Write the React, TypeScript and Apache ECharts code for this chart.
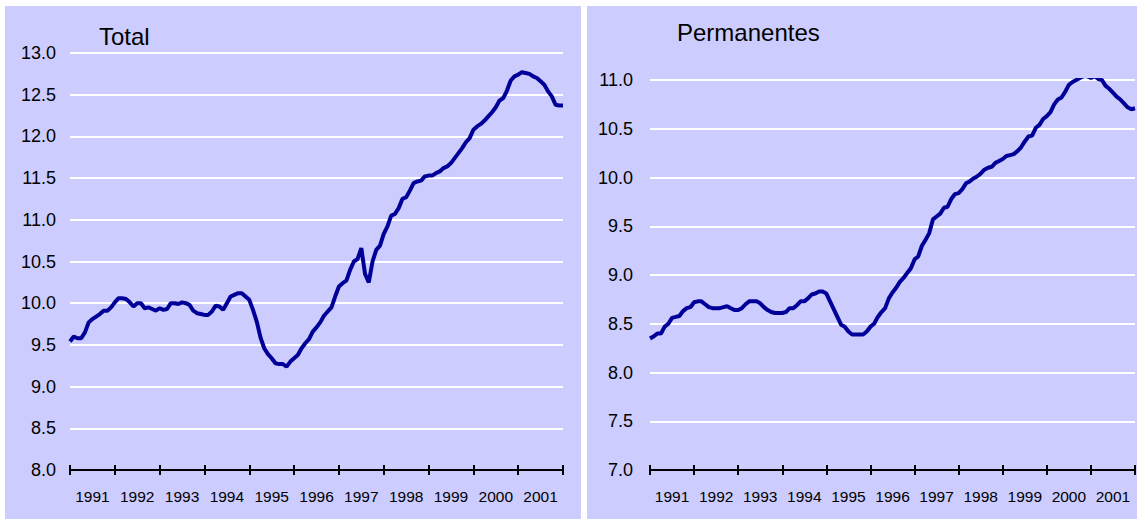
import React, { useEffect, useRef } from "react";
import * as echarts from "echarts";

// Monthly values, Jan 1991 .. Jan 2002 (133 points)
const totalValues: number[] = [
  9.54, 9.60, 9.58, 9.58, 9.65, 9.77, 9.81, 9.84, 9.87, 9.91, 9.91, 9.95,
  10.01, 10.06, 10.06, 10.05, 10.01, 9.96, 10.0, 10.0, 9.94, 9.95, 9.93, 9.91,
  9.94, 9.92, 9.93, 10.0, 10.0, 9.99, 10.01, 10.0, 9.98, 9.91, 9.88, 9.87,
  9.86, 9.86, 9.90, 9.97, 9.96, 9.92, 10.0, 10.08, 10.10, 10.12, 10.12, 10.08,
  10.04, 9.92, 9.78, 9.59, 9.46, 9.39, 9.34, 9.28, 9.27, 9.27, 9.24, 9.30,
  9.34, 9.38, 9.46, 9.52, 9.57, 9.66, 9.71, 9.77, 9.85, 9.90, 9.95, 10.08,
  10.20, 10.24, 10.27, 10.40, 10.50, 10.53, 10.66, 10.35, 10.25, 10.50, 10.64, 10.69,
  10.83, 10.92, 11.05, 11.07, 11.14, 11.25, 11.27, 11.35, 11.44, 11.46, 11.47, 11.52,
  11.53, 11.53, 11.56, 11.58, 11.62, 11.64, 11.68, 11.74, 11.80, 11.86, 11.93, 11.98,
  12.08, 12.12, 12.15, 12.19, 12.24, 12.29, 12.35, 12.43, 12.46, 12.55, 12.67, 12.72,
  12.74, 12.77, 12.76, 12.75, 12.72, 12.70, 12.66, 12.62, 12.54, 12.48, 12.38, 12.37,
  12.37,
];

const permValues: number[] = [
  8.35, 8.37, 8.40, 8.40, 8.47, 8.50, 8.56, 8.57, 8.58, 8.63, 8.66, 8.67,
  8.72, 8.73, 8.73, 8.70, 8.67, 8.66, 8.66, 8.66, 8.67, 8.68, 8.66, 8.64,
  8.64, 8.66, 8.70, 8.73, 8.73, 8.73, 8.71, 8.67, 8.64, 8.62, 8.61, 8.61,
  8.61, 8.62, 8.66, 8.66, 8.69, 8.73, 8.73, 8.76, 8.80, 8.81, 8.83, 8.83,
  8.81, 8.73, 8.65, 8.57, 8.49, 8.47, 8.42, 8.39, 8.39, 8.39, 8.39, 8.42,
  8.47, 8.50, 8.57, 8.62, 8.66, 8.76, 8.82, 8.87, 8.93, 8.97, 9.02, 9.07,
  9.16, 9.19, 9.30, 9.36, 9.43, 9.57, 9.60, 9.63, 9.69, 9.70, 9.78, 9.83,
  9.84, 9.88, 9.94, 9.96, 9.99, 10.01, 10.04, 10.08, 10.10, 10.11, 10.15, 10.17,
  10.19, 10.22, 10.23, 10.24, 10.27, 10.31, 10.37, 10.42, 10.43, 10.51, 10.54, 10.60,
  10.63, 10.67, 10.75, 10.80, 10.82, 10.88, 10.95, 10.98, 11.0, 11.02, 11.04, 11.04,
  11.02, 11.04, 11.01, 11.0, 10.94, 10.91, 10.87, 10.83, 10.80, 10.76, 10.72, 10.70,
  10.71,
];

const yearLabels: string[] = [
  "1991", "1992", "1993", "1994", "1995", "1996", "1997", "1998", "1999", "2000", "2001",
];

const panelTitles: string[] = ["Total", "Permanentes"];

const FONT = "'Liberation Sans', Arial, sans-serif";
const LINE_COLOR = "#000099";
const BG = "#CCCCFF";

function xAxesFor(gridIndex: number, n: number) {
  const common = {
    gridIndex,
    type: "value" as const,
    position: "bottom" as const,
    offset: 0,
    min: 0,
    max: n - 1,
    interval: 12,
    axisLabel: { show: false },
    splitLine: { show: false },
  };
  return [
    {
      ...common,
      axisLine: { show: true, onZero: false, lineStyle: { color: "#000", width: 2 } },
      axisTick: { show: true, inside: false, length: 5, lineStyle: { color: "#000", width: 2 } },
    },
    {
      ...common,
      axisLine: { show: false, onZero: false },
      axisTick: { show: true, inside: true, length: 5, lineStyle: { color: "#000", width: 2 } },
    },
    {
      gridIndex,
      type: "category" as const,
      position: "bottom" as const,
      offset: 0,
      data: yearLabels,
      boundaryGap: true,
      axisLine: { show: false, onZero: false },
      axisTick: { show: false },
      splitLine: { show: false },
      axisLabel: { interval: 0, fontSize: 15.5, color: "#000", fontFamily: FONT, margin: 18 },
    },
  ];
}

function yAxisFor(gridIndex: number, min: number, max: number, margin: number) {
  return {
    gridIndex,
    type: "value" as const,
    position: "left" as const,
    min,
    max,
    interval: 0.5,
    axisLine: { show: false },
    axisTick: { show: false },
    splitLine: { show: true, lineStyle: { color: "#FFFFFF", width: 2 } },
    axisLabel: {
      fontSize: 18,
      color: "#000",
      fontFamily: FONT,
      margin,
      formatter: (v: number) => v.toFixed(1),
    },
  };
}

export default function App() {
  const ref = useRef<HTMLDivElement>(null);

  useEffect(() => {
    if (!ref.current) return;
    const chart = echarts.init(ref.current, undefined, { renderer: "svg" });
    const option = {
      animation: false,
      backgroundColor: "#FFFFFF",
      grid: [
        { left: 70, top: 53, width: 493, height: 417, outerBoundsMode: "none" },
        { left: 650, top: 80, width: 485, height: 390, outerBoundsMode: "none" },
      ],
      xAxis: [...xAxesFor(0, totalValues.length), ...xAxesFor(1, permValues.length)],
      yAxis: [yAxisFor(0, 8, 13, 14), yAxisFor(1, 7, 11, 17)],
      series: [
        {
          type: "line",
          xAxisIndex: 0,
          yAxisIndex: 0,
          data: totalValues.map((v, i) => [i, v]),
          symbol: "none",
          lineStyle: { color: LINE_COLOR, width: 4 },
          z: 5,
        },
        {
          type: "line",
          xAxisIndex: 3,
          yAxisIndex: 1,
          data: permValues.map((v, i) => [i, v]),
          symbol: "none",
          lineStyle: { color: LINE_COLOR, width: 4 },
          z: 5,
        },
      ],
      graphic: [
        { type: "rect", z: -10, shape: { x: 5, y: 6, width: 576, height: 513 }, style: { fill: BG } },
        { type: "rect", z: -10, shape: { x: 587, y: 6, width: 550, height: 513 }, style: { fill: BG } },
        {
          type: "text",
          z: 100,
          x: 99,
          y: 24,
          style: { text: panelTitles[0], fontSize: 24, fill: "#000", fontFamily: FONT, verticalAlign: "top" },
        },
        {
          type: "text",
          z: 100,
          x: 677,
          y: 20,
          style: { text: panelTitles[1], fontSize: 24, fill: "#000", fontFamily: FONT, verticalAlign: "top" },
        },
      ],
    };
    chart.setOption(option as any);
    return () => chart.dispose();
  }, []);

  return (
    <div
      ref={ref}
      style={{ position: "absolute", left: 0, top: 0, width: 1138, height: 519 }}
    />
  );
}
